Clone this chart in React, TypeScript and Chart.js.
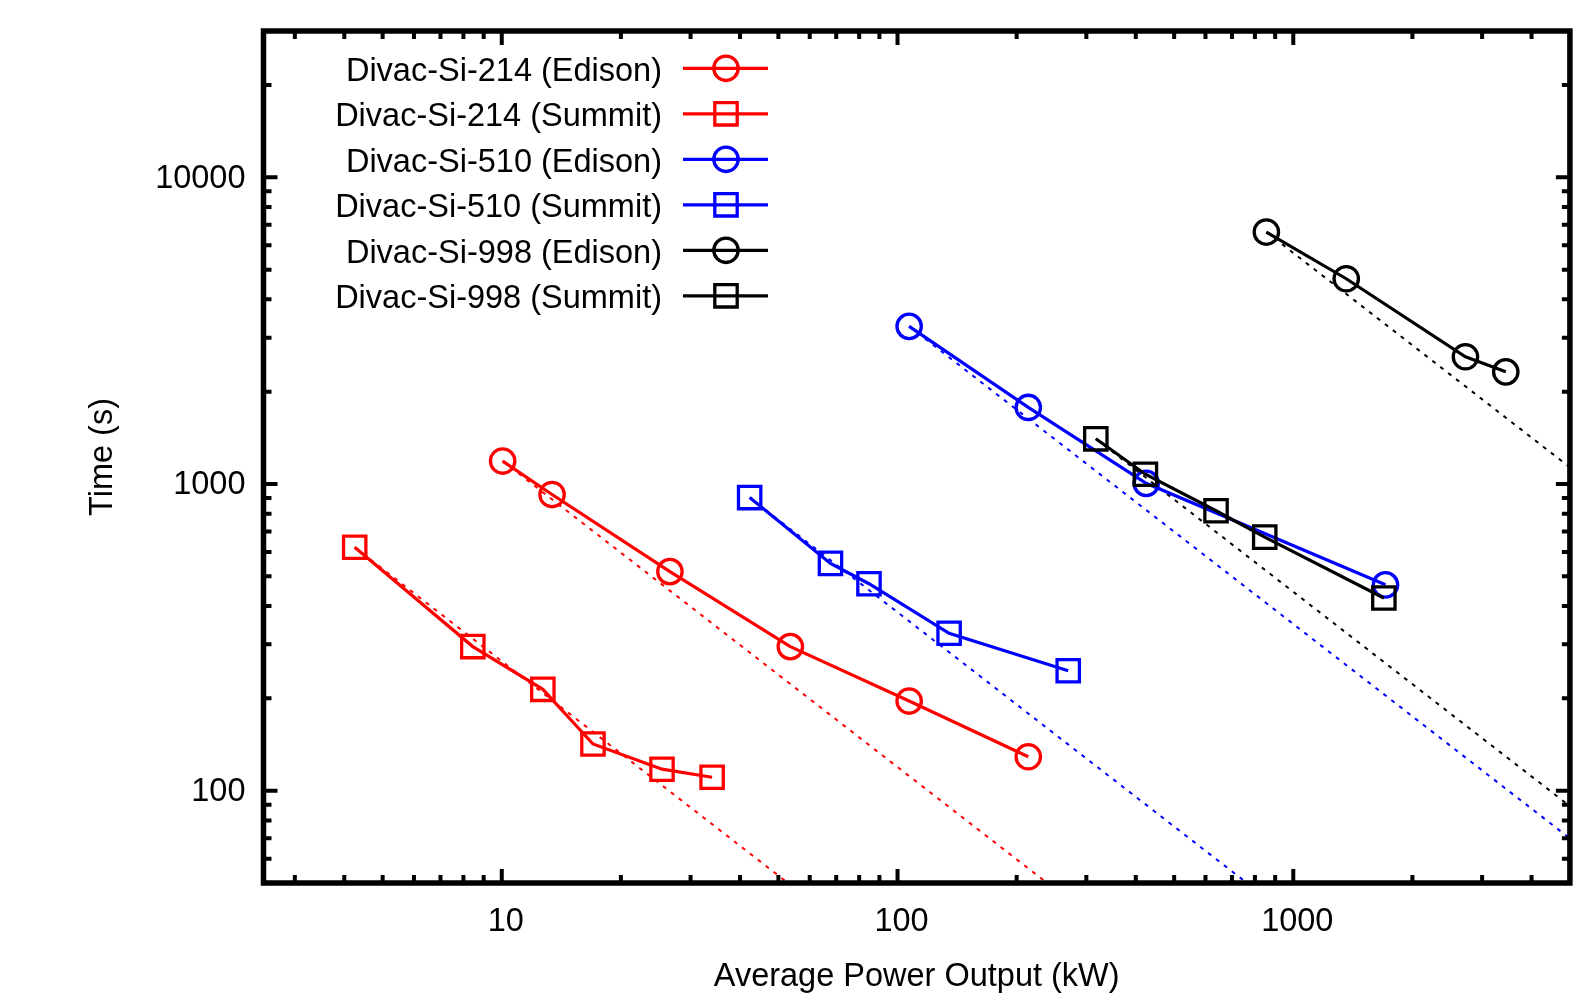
import React, { useEffect, useRef } from 'react';
import { Chart, registerables } from 'chart.js';

Chart.register(...registerables);

const FONT = '"Liberation Sans", Arial, Helvetica, sans-serif';
const FONT_SIZE = 32.5;

const seriesLabels = [
  'Divac-Si-214 (Edison)',
  'Divac-Si-214 (Summit)',
  'Divac-Si-510 (Edison)',
  'Divac-Si-510 (Summit)',
  'Divac-Si-998 (Edison)',
  'Divac-Si-998 (Summit)',
];
const seriesColors = ['#ff0000', '#ff0000', '#0000ff', '#0000ff', '#000000', '#000000'];
const seriesMarkers = ['circle', 'rect', 'circle', 'rect', 'circle', 'rect'];

// Average power output (kW) and time (s)
const si214EdisonPower = [10.05, 13.4, 26.6, 53.6, 107, 214];
const si214EdisonTime = [1188, 924, 518, 295, 196, 129];
const si214SummitPower = [4.25, 8.45, 12.7, 17.0, 25.4, 34.0];
const si214SummitTime = [622, 295, 214, 142, 117.5, 110.6];
const si510EdisonPower = [107, 214, 425, 1710];
const si510EdisonTime = [3266, 1777, 1005, 469];
const si510SummitPower = [42.3, 67.7, 84.7, 135, 270];
const si510SummitTime = [903, 551, 473, 326, 246];
const si998EdisonPower = [855, 1361, 2723, 3443];
const si998EdisonTime = [6629, 4670, 2600, 2321];
const si998SummitPower = [317, 423, 638, 847, 1694];
const si998SummitTime = [1404, 1076, 818, 671, 425];

const seriesPower = [si214EdisonPower, si214SummitPower, si510EdisonPower, si510SummitPower, si998EdisonPower, si998SummitPower];
const seriesTime = [si214EdisonTime, si214SummitTime, si510EdisonTime, si510SummitTime, si998EdisonTime, si998SummitTime];

const xTickValues = [10, 100, 1000];
const yTickValues = [100, 1000, 10000];
const X_MIN = 2.5;
const X_MAX = 5000;
const Y_MIN = 50;
const Y_MAX = 30000;

const W = 1589;
const H = 1004;

function logTicks(min: number, max: number) {
  const out: { v: number; major: boolean }[] = [];
  for (let e = Math.floor(Math.log10(min)); e <= Math.ceil(Math.log10(max)); e++) {
    for (let m = 1; m <= 9; m++) {
      const v = m * Math.pow(10, e);
      if (v > min * 1.0001 && v < max * 0.9999) out.push({ v, major: m === 1 });
    }
  }
  return out;
}

const framePlugin = {
  id: 'gnuplotFrame',
  afterDatasetsDraw(chart: any) {
    const { ctx, chartArea: a, scales } = chart;
    const xs = scales.x;
    const ys = scales.y;
    const minor = 8;
    const major = 14;
    ctx.save();
    ctx.strokeStyle = '#000';
    ctx.lineWidth = 4;
    ctx.lineCap = 'butt';
    ctx.beginPath();
    for (const t of logTicks(xs.min, xs.max)) {
      const px = xs.getPixelForValue(t.v);
      const len = t.major ? major : minor;
      ctx.moveTo(px, a.bottom);
      ctx.lineTo(px, a.bottom - len);
      ctx.moveTo(px, a.top);
      ctx.lineTo(px, a.top + len);
    }
    for (const t of logTicks(ys.min, ys.max)) {
      const py = ys.getPixelForValue(t.v);
      const len = t.major ? major : minor;
      ctx.moveTo(a.left, py);
      ctx.lineTo(a.left + len, py);
      ctx.moveTo(a.right, py);
      ctx.lineTo(a.right - len, py);
    }
    ctx.stroke();
    ctx.lineWidth = 5.5;
    ctx.lineJoin = 'miter';
    ctx.strokeRect(a.left, a.top, a.right - a.left, a.bottom - a.top);
    ctx.restore();
  },
};

const LEG = { textRight: 662, lineX0: 683, lineX1: 768, markerX: 726, y0: 68.3, dy: 45.5 };

const legendPlugin = {
  id: 'gnuplotLegend',
  afterDraw(chart: any) {
    const { ctx } = chart;
    ctx.save();
    ctx.font = `${FONT_SIZE}px ${FONT}`;
    ctx.textAlign = 'right';
    ctx.textBaseline = 'alphabetic';
    seriesLabels.forEach((label, i) => {
      const y = LEG.y0 + i * LEG.dy;
      ctx.fillStyle = '#000';
      ctx.fillText(label, LEG.textRight, y + 12.5);
      ctx.strokeStyle = seriesColors[i];
      ctx.lineWidth = 3.2;
      ctx.beginPath();
      ctx.moveTo(LEG.lineX0, y);
      ctx.lineTo(LEG.lineX1, y);
      ctx.stroke();
      ctx.lineWidth = 3.3;
      ctx.beginPath();
      if (seriesMarkers[i] === 'circle') {
        ctx.arc(LEG.markerX, y, 12.2, 0, Math.PI * 2);
      } else {
        ctx.rect(LEG.markerX - 11.2, y - 11.2, 22.4, 22.4);
      }
      ctx.stroke();
    });
    ctx.restore();
  },
};

export default function App() {
  const canvasRef = useRef<HTMLCanvasElement | null>(null);

  useEffect(() => {
    const canvas = canvasRef.current;
    if (!canvas) return;

    const solid = seriesLabels.map((label, i) => ({
      label,
      data: seriesPower[i].map((p, j) => ({ x: p, y: seriesTime[i][j] })),
      borderColor: seriesColors[i],
      backgroundColor: 'rgba(0,0,0,0)',
      borderWidth: 3.2,
      pointStyle: seriesMarkers[i],
      pointRadius: seriesMarkers[i] === 'circle' ? 12.2 : 15.8,
      pointBorderWidth: 3.3,
      pointBorderColor: seriesColors[i],
      pointBackgroundColor: 'rgba(0,0,0,0)',
      tension: 0,
      fill: false,
      order: 5 - i,
    }));

    const ideal = seriesLabels.map((label, i) => {
      const p0 = seriesPower[i][0];
      const t0 = seriesTime[i][0];
      return {
        label: label + ' ideal',
        data: [
          { x: p0, y: t0 },
          { x: X_MAX, y: (t0 * p0) / X_MAX },
        ],
        borderColor: seriesColors[i],
        backgroundColor: 'rgba(0,0,0,0)',
        borderWidth: 2,
        borderDash: [4, 6],
        pointRadius: 0,
        tension: 0,
        fill: false,
        order: 20 + i,
      };
    });

    const chart = new Chart(canvas, {
      type: 'line',
      data: { datasets: [...solid, ...ideal] as any },
      options: {
        responsive: false,
        animation: false,
        devicePixelRatio: 1,
        events: [],
        layout: { padding: { left: 0, top: 31, right: 16, bottom: 0 } },
        plugins: {
          legend: { display: false },
          tooltip: { enabled: false },
        },
        scales: {
          x: {
            type: 'logarithmic',
            position: 'bottom',
            min: X_MIN,
            max: X_MAX,
            grid: { display: false, drawTicks: false },
            border: { display: false },
            afterBuildTicks: (s: any) => {
              s.ticks = xTickValues.map((v) => ({ value: v }));
            },
            afterFit: (s: any) => {
              s.height = 121;
              s.paddingLeft = 0;
              s.paddingRight = 0;
              s.paddingTop = 0;
              s.paddingBottom = 0;
            },
            ticks: {
              autoSkip: false,
              maxRotation: 0,
              minRotation: 0,
              padding: 20,
              labelOffset: 4,
              color: '#000',
              font: { family: FONT, size: FONT_SIZE },
              callback: (v: any) => String(v),
            },
            title: {
              display: true,
              text: 'Average Power Output (kW)',
              color: '#000',
              font: { family: FONT, size: FONT_SIZE },
              padding: { top: 0, bottom: 7 },
            },
          },
          y: {
            type: 'logarithmic',
            position: 'left',
            min: Y_MIN,
            max: Y_MAX,
            grid: { display: false, drawTicks: false },
            border: { display: false },
            afterBuildTicks: (s: any) => {
              s.ticks = yTickValues.map((v) => ({ value: v }));
            },
            afterFit: (s: any) => {
              s.width = 263.5;
              s.paddingLeft = 0;
              s.paddingRight = 0;
              s.paddingTop = 0;
              s.paddingBottom = 0;
            },
            ticks: {
              autoSkip: false,
              padding: 18,
              labelOffset: 1.5,
              color: '#000',
              font: { family: FONT, size: FONT_SIZE },
              callback: (v: any) => String(v),
            },
            title: {
              display: true,
              text: 'Time (s)',
              color: '#000',
              font: { family: FONT, size: FONT_SIZE },
              padding: { top: 84, bottom: 0 },
            },
          },
        },
      } as any,
      plugins: [framePlugin, legendPlugin],
    });

    return () => {
      chart.destroy();
    };
  }, []);

  return (
    <div style={{ position: 'fixed', left: 0, top: 0, width: W, height: H, background: '#fff' }}>
      <canvas ref={canvasRef} width={W} height={H} style={{ width: W, height: H, display: 'block' }} />
    </div>
  );
}
